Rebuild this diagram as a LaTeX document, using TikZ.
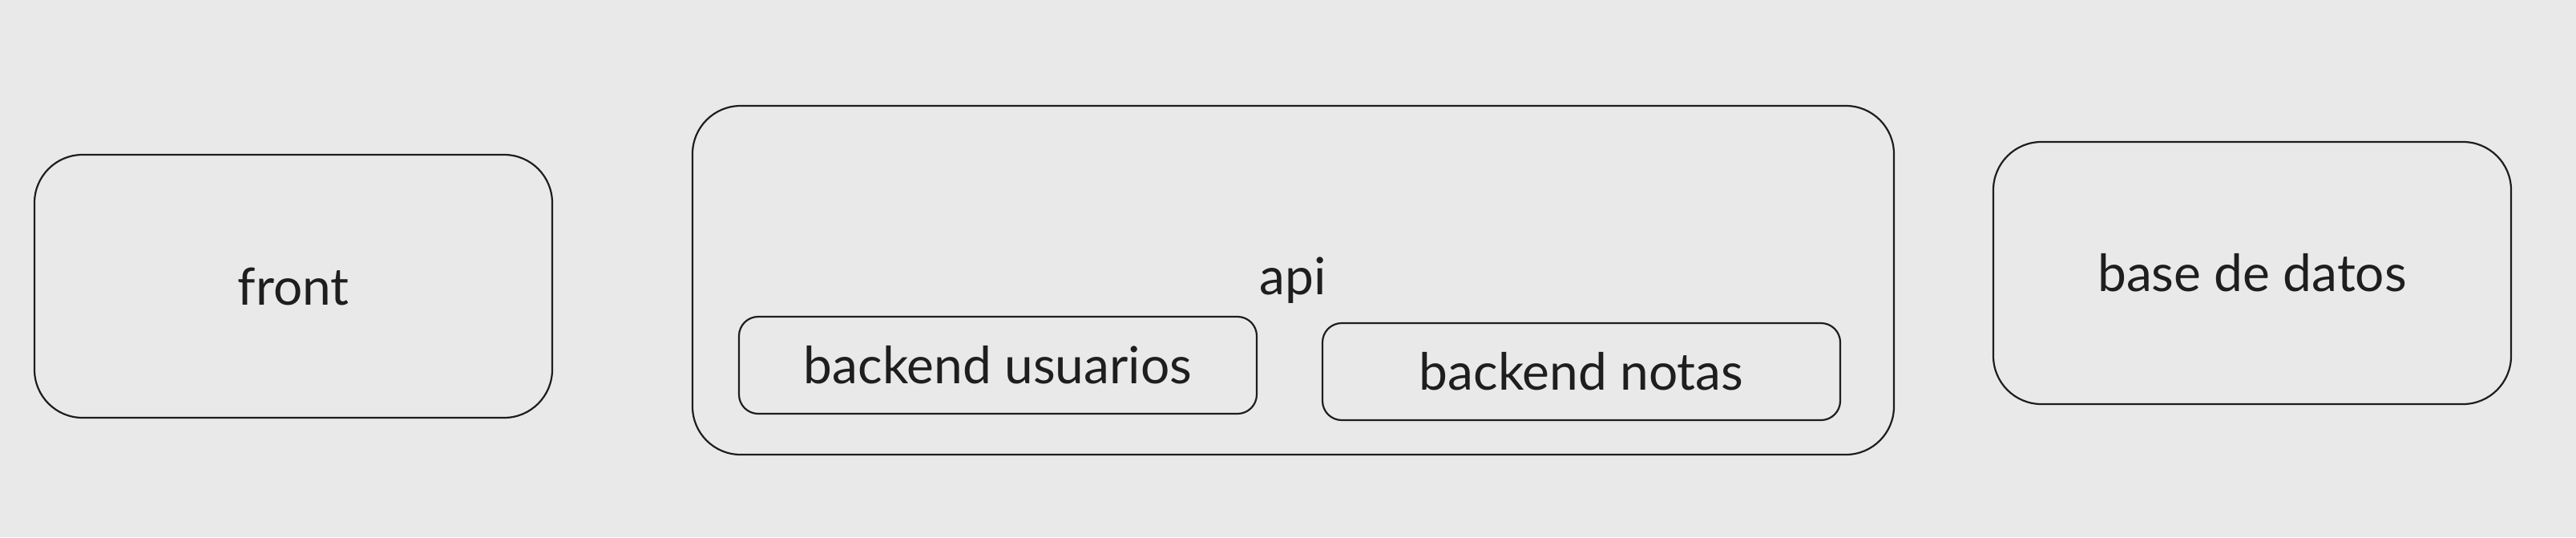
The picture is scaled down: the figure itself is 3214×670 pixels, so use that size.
\documentclass[tikz,border=0pt]{standalone}
\usepackage{fontspec}
\setmainfont{Lato}
\definecolor{bg}{HTML}{E9E9E9}
\definecolor{ink}{HTML}{1E1E1E}
\tikzset{
  boxbig/.style={draw=ink, line width=1.1pt, rounded corners=30pt, inner sep=0pt, outer sep=0pt,
    text=ink, font=\fontsize{32}{38}\selectfont},
  boxsmall/.style={draw=ink, line width=1.1pt, rounded corners=12pt, inner sep=0pt, outer sep=0pt,
    text=ink, font=\fontsize{32}{38}\selectfont},
}
\begin{document}
\begin{tikzpicture}[x=0.5pt, y=-0.5pt]
  \fill[bg] (0,0) rectangle (3214,670);
  \useasboundingbox (0,0) rectangle (3214,670);
  \node[boxbig, minimum width=323pt, minimum height=164pt] (front) at (366,357) {front};
  \node[boxbig, minimum width=749.5pt, minimum height=217.5pt] (api) at (1613.5,349.5) {api};
  \node[boxsmall, minimum width=323pt, minimum height=60.5pt] (busuarios) at (1245,455.5) {backend usuarios};
  \node[boxsmall, minimum width=323pt, minimum height=60.5pt] (bnotas) at (1973,463.5) {backend notas};
  \node[boxbig, minimum width=323pt, minimum height=163.5pt] (bd) at (2810,340.5) {base de datos};
\end{tikzpicture}
\end{document}
